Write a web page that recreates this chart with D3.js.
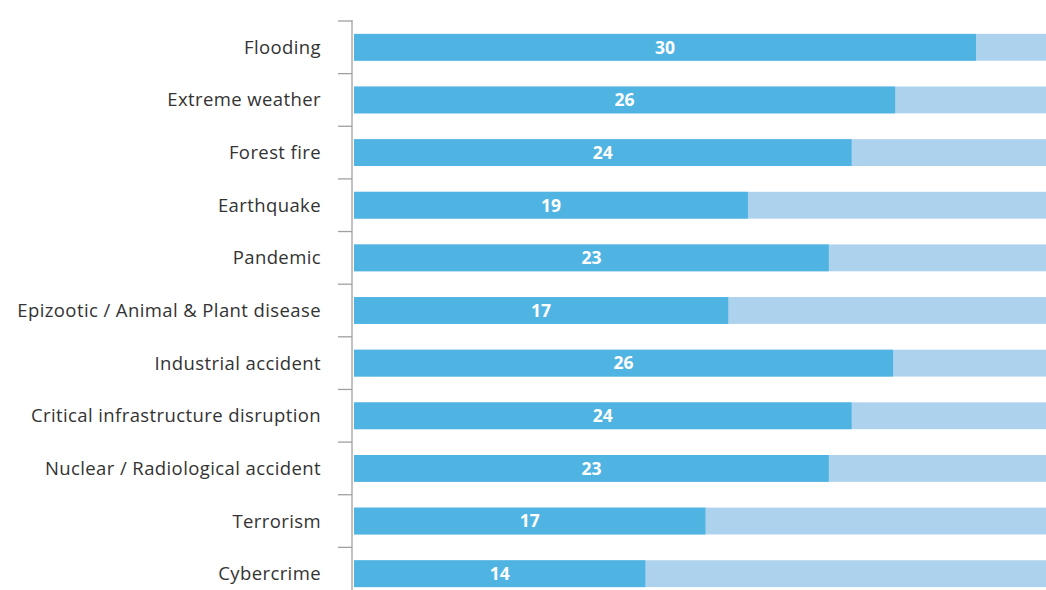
<!DOCTYPE html>
<html><head><meta charset="utf-8">
<script src="https://cdn.jsdelivr.net/npm/d3@7"></script>
<style>body{margin:0;background:#fff}svg{display:block}</style>
</head><body>
<svg id="chart" width="1046" height="590"></svg>
<script>
const categories = ["Flooding","Extreme weather","Forest fire","Earthquake","Pandemic","Epizootic / Animal & Plant disease","Industrial accident","Critical infrastructure disruption","Nuclear / Radiological accident","Terrorism","Cybercrime"];
const values = [30, 26.1, 24, 19, 22.9, 18.05, 26, 24, 22.9, 16.95, 14.05];
const valueLabels = ["30","26","24","19","23","17","26","24","23","17","14"];
const total = 34;

const W = 1046, H = 590;
const svg = d3.select("#chart");
const x0 = 354;
const x = d3.scaleLinear().domain([0, 30]).range([x0, 976]);
const y = d3.scaleBand().domain(categories).range([21, 600]).paddingInner(0.49).paddingOuter(0.245);
const step = y.step();

const g = svg.append("g");
g.selectAll("rect.bg").data(categories).join("rect")
  .attr("class","bg")
  .attr("x", x(0)).attr("y", d => y(d))
  .attr("width", x(total) - x(0)).attr("height", y.bandwidth())
  .attr("fill", "#acd2ee");
g.selectAll("rect.val").data(categories).join("rect")
  .attr("class","val")
  .attr("x", x(0)).attr("y", d => y(d))
  .attr("width", (d,i) => x(values[i]) - x(0)).attr("height", y.bandwidth())
  .attr("fill", "#50b4e3");
g.selectAll("text.vl").data(categories).join("text")
  .attr("class","vl")
  .attr("x", (d,i) => (x(0) + x(values[i]))/2)
  .attr("y", d => y(d) + y.bandwidth()/2)
  .attr("dy", "0.36em")
  .attr("text-anchor","middle")
  .attr("fill","#fff")
  .attr("font-family","'Open Sans', sans-serif")
  .attr("font-weight","bold")
  .attr("font-size", 17.5)
  .text((d,i) => valueLabels[i]);

g.append("line").attr("x1",352).attr("x2",352).attr("y1",20).attr("y2",H)
  .attr("stroke","#a0a0a0").attr("stroke-width",1.3);
const bounds = categories.map(c => y(c) - step*y.paddingInner()/2);
g.selectAll("line.tick").data(bounds).join("line")
  .attr("class","tick")
  .attr("x1",338).attr("x2",352).attr("y1",d=>d).attr("y2",d=>d)
  .attr("stroke","#a0a0a0").attr("stroke-width",1.3);

g.selectAll("text.cat").data(categories).join("text")
  .attr("class","cat")
  .attr("x", 321)
  .attr("y", d => y(d) + y.bandwidth()/2)
  .attr("dy","0.35em")
  .attr("text-anchor","end")
  .attr("fill","#333")
  .attr("font-family","'Open Sans', sans-serif")
  .attr("font-size", 18.5)
  .attr("letter-spacing", "0.4px")
  .text(d => d);
</script>
</body></html>
